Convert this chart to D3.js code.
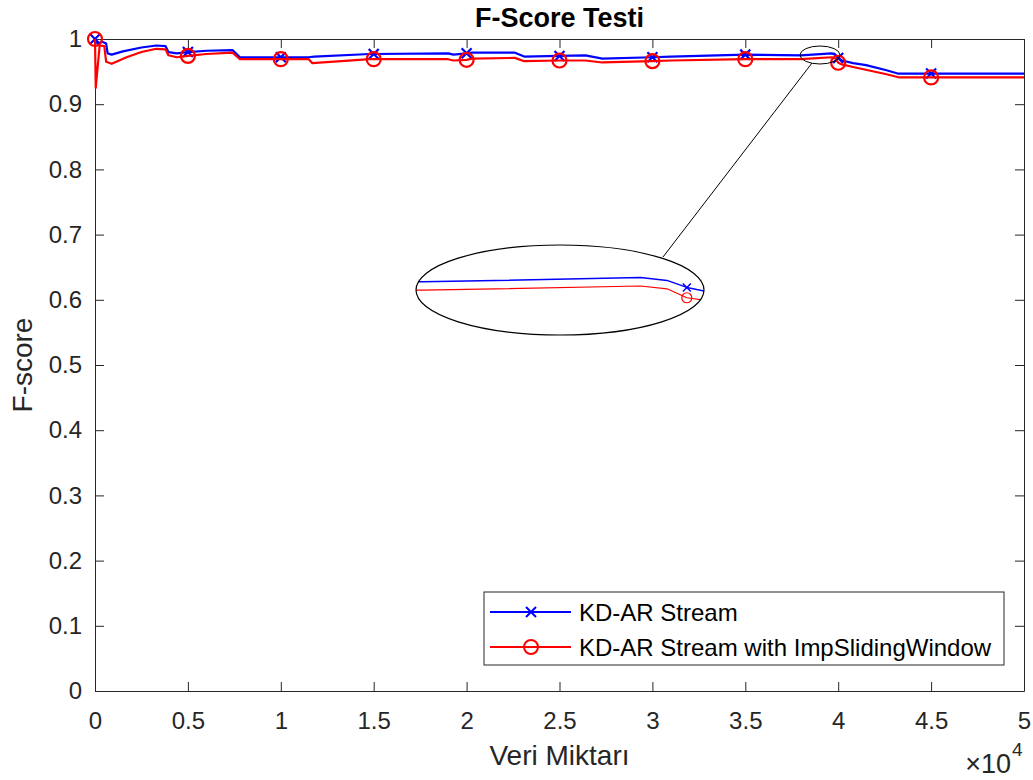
<!DOCTYPE html>
<html>
<head>
<meta charset="utf-8">
<script src="https://cdn.jsdelivr.net/npm/d3@7"></script>
<style>
  body { margin: 0; background: #fff; }
  svg { font-family: "Liberation Sans", Arial, sans-serif; }
  .axis path, .axis line { stroke: #262626; }
  .axis text { fill: #262626; font-size: 24px; font-family: "Liberation Sans", Arial, sans-serif; }
</style>
</head>
<body>
<svg id="chart" width="1033" height="780"></svg>
<script>
// KD-AR Stream (blue, x markers)
var xKd = [0, 150, 350, 600, 680, 900, 1500, 2500, 3300, 3800, 3950, 4400, 5000, 6000, 7400, 7800,
  10000, 11500, 11800, 14800, 15000, 19000, 19300, 20000, 20300, 22600, 23100, 25000, 26400, 27300,
  30000, 31000, 35000, 38000, 39650, 39850, 40000, 40200, 40800, 41500, 42600, 43200, 45000, 50000];
var fKd = [1.000, 0.992, 0.996, 0.993, 0.978, 0.976, 0.981, 0.987, 0.990, 0.989, 0.980, 0.978, 0.980, 0.982, 0.983, 0.972,
  0.972, 0.972, 0.973, 0.977, 0.977, 0.978, 0.976, 0.978, 0.979, 0.979, 0.973, 0.974, 0.975, 0.970,
  0.972, 0.973, 0.976, 0.975, 0.978, 0.976, 0.971, 0.967, 0.963, 0.960, 0.952, 0.947, 0.947, 0.947];

// KD-AR Stream with ImpSlidingWindow (red, o markers)
var xImp = [0, 40, 250, 500, 600, 900, 1700, 2500, 3300, 3800, 3950, 4400, 5000, 6000, 7400, 7800,
  10000, 11500, 11700, 14800, 15000, 19000, 19300, 20000, 20300, 22600, 23100, 25000, 26400, 27300,
  30000, 31000, 35000, 38000, 39650, 39850, 40000, 40200, 40800, 42600, 43300, 45000, 50000];
var fImp = [1.000, 0.925, 0.990, 0.989, 0.965, 0.962, 0.972, 0.980, 0.985, 0.984, 0.975, 0.972, 0.974, 0.977, 0.979, 0.969,
  0.969, 0.969, 0.963, 0.969, 0.969, 0.969, 0.967, 0.968, 0.970, 0.971, 0.966, 0.967, 0.967, 0.964,
  0.966, 0.967, 0.969, 0.969, 0.972, 0.970, 0.9636, 0.961, 0.957, 0.946, 0.941, 0.941, 0.941];

var xTicks = [0, 5000, 10000, 15000, 20000, 25000, 30000, 35000, 40000, 45000, 50000];
var yTicks = [0, 0.1, 0.2, 0.3, 0.4, 0.5, 0.6, 0.7, 0.8, 0.9, 1];
var seriesNames = ["KD-AR Stream", "KD-AR Stream with ImpSlidingWindow"];
var markerStep = 5000;

var svg = d3.select("#chart");
var margin = {top: 39, right: 9, bottom: 89, left: 95},
    width = 1033 - margin.left - margin.right,
    height = 780 - margin.top - margin.bottom;

var x = d3.scaleLinear().domain([0, 50000]).range([margin.left, margin.left + width]);
var y = d3.scaleLinear().domain([0, 1]).range([margin.top + height, margin.top]);

var kd = xKd.map(function(v, i) { return {x: v, y: fKd[i]}; });
var imp = xImp.map(function(v, i) { return {x: v, y: fImp[i]}; });

// axes, matlab style ticks inside
var yFmt = function(d) { return d === 0 || d === 1 ? String(d) : d.toFixed(1); };
svg.append("g").attr("class", "axis")
    .attr("transform", "translate(0," + (margin.top + height) + ")")
    .call(d3.axisBottom(x).tickValues(xTicks).tickSize(-9).tickSizeOuter(0).tickPadding(21)
        .tickFormat(function(d) { return d / 1e4; }));
svg.append("g").attr("class", "axis")
    .attr("transform", "translate(0," + margin.top + ")")
    .call(d3.axisTop(x).tickValues(xTicks).tickSize(-9).tickSizeOuter(0).tickFormat(""));
svg.append("g").attr("class", "axis")
    .attr("transform", "translate(" + margin.left + ",0)")
    .call(d3.axisLeft(y).tickValues(yTicks).tickSize(-9).tickSizeOuter(0).tickPadding(13).tickFormat(yFmt));
svg.append("g").attr("class", "axis")
    .attr("transform", "translate(" + (margin.left + width) + ",0)")
    .call(d3.axisRight(y).tickValues(yTicks).tickSize(-9).tickSizeOuter(0).tickFormat(""));

// title and labels
svg.append("text").attr("x", margin.left + width / 2).attr("y", 27)
    .attr("text-anchor", "middle").style("font-size", "27px").style("font-weight", "bold")
    .attr("fill", "#000").text("F-Score Testi");
svg.append("text").attr("x", margin.left + width / 2).attr("y", 765)
    .attr("text-anchor", "middle").style("font-size", "28px").attr("fill", "#262626").text("Veri Miktarı");
svg.append("text").attr("transform", "translate(32," + (margin.top + height / 2) + ") rotate(-90)")
    .attr("text-anchor", "middle").style("font-size", "28px").attr("fill", "#262626").text("F-score");
svg.append("text").attr("x", 1011).attr("y", 773).attr("text-anchor", "end")
    .style("font-size", "27px").attr("fill", "#262626").text("×10");
svg.append("text").attr("x", 1012).attr("y", 756)
    .style("font-size", "19px").attr("fill", "#262626").text("4");

function drawSeries(g, data, sx, sy, color, kind, lw, ms) {
    var line = d3.line().x(function(d) { return sx(d.x); }).y(function(d) { return sy(d.y); });
    g.append("path").datum(data)
        .attr("fill", "none").attr("stroke", color).attr("stroke-width", lw)
        .attr("stroke-linejoin", "round").attr("d", line);
    var marks = data.filter(function(d) { return d.x % markerStep === 0 && d.x < 50000; });
    drawMarkers(g, marks.map(function(d) { return [sx(d.x), sy(d.y)]; }), color, kind, ms, lw);
}

function drawMarkers(g, pts, color, kind, ms, lw) {
    pts.forEach(function(p) {
        if (kind === "x") {
            g.append("path")
                .attr("d", "M" + (p[0] - ms) + "," + (p[1] - ms) + "L" + (p[0] + ms) + "," + (p[1] + ms) +
                           "M" + (p[0] - ms) + "," + (p[1] + ms) + "L" + (p[0] + ms) + "," + (p[1] - ms))
                .attr("stroke", color).attr("stroke-width", lw);
        } else {
            g.append("circle").attr("cx", p[0]).attr("cy", p[1]).attr("r", ms)
                .attr("fill", "none").attr("stroke", color).attr("stroke-width", lw);
        }
    });
}

var plot = svg.append("g");
drawSeries(plot, kd, x, y, "#0000ff", "x", 2.2, 5);
drawSeries(plot, imp, x, y, "#ff0000", "o", 2.2, 7);

// zoom ellipse in the main plot and the enlarged inset
var small = {cx: 820, cy: 55, rx: 20, ry: 9};
var big = {cx: 560, cy: 290, rx: 144, ry: 45};

svg.append("ellipse").attr("cx", small.cx).attr("cy", small.cy).attr("rx", small.rx).attr("ry", small.ry)
    .attr("fill", "none").attr("stroke", "#000").attr("stroke-width", 1);
svg.append("line").attr("x1", 812).attr("y1", 63).attr("x2", 663).attr("y2", 257)
    .attr("stroke", "#000").attr("stroke-width", 1);

svg.append("clipPath").attr("id", "insetClip")
  .append("ellipse").attr("cx", big.cx).attr("cy", big.cy).attr("rx", big.rx).attr("ry", big.ry);
svg.append("ellipse").attr("cx", big.cx).attr("cy", big.cy).attr("rx", big.rx).attr("ry", big.ry)
    .attr("fill", "#fff").attr("stroke", "none");

var ix = d3.scaleLinear().domain([37950, 40130]).range([big.cx - big.rx, big.cx + big.rx]);
var iy = d3.scaleLinear().domain([0.937, 1.0013]).range([big.cy + big.ry, big.cy - big.ry]);
var inset = svg.append("g").attr("clip-path", "url(#insetClip)");
drawSeries(inset, kd, ix, iy, "#0000ff", "x", 1.5, 4);
drawSeries(inset, imp, ix, iy, "#ff0000", "o", 1.2, 5);
svg.append("ellipse").attr("cx", big.cx).attr("cy", big.cy).attr("rx", big.rx).attr("ry", big.ry)
    .attr("fill", "none").attr("stroke", "#000").attr("stroke-width", 1.2);

// legend
var lg = svg.append("g");
lg.append("rect").attr("x", 484).attr("y", 592).attr("width", 520).attr("height", 73)
    .attr("fill", "#fff").attr("stroke", "#262626").attr("stroke-width", 1);
var legendItems = [
    {name: seriesNames[0], color: "#0000ff", kind: "x", ms: 5},
    {name: seriesNames[1], color: "#ff0000", kind: "o", ms: 7}
];
legendItems.forEach(function(it, i) {
    var cy = 612 + i * 35;
    lg.append("line").attr("x1", 490).attr("x2", 571).attr("y1", cy).attr("y2", cy)
        .attr("stroke", it.color).attr("stroke-width", 2);
    drawMarkers(lg, [[531, cy]], it.color, it.kind, it.ms, 2);
    lg.append("text").attr("x", 579).attr("y", cy + 8.5).style("font-size", "24px")
        .attr("fill", "#000").text(it.name);
});
</script>
</body>
</html>
